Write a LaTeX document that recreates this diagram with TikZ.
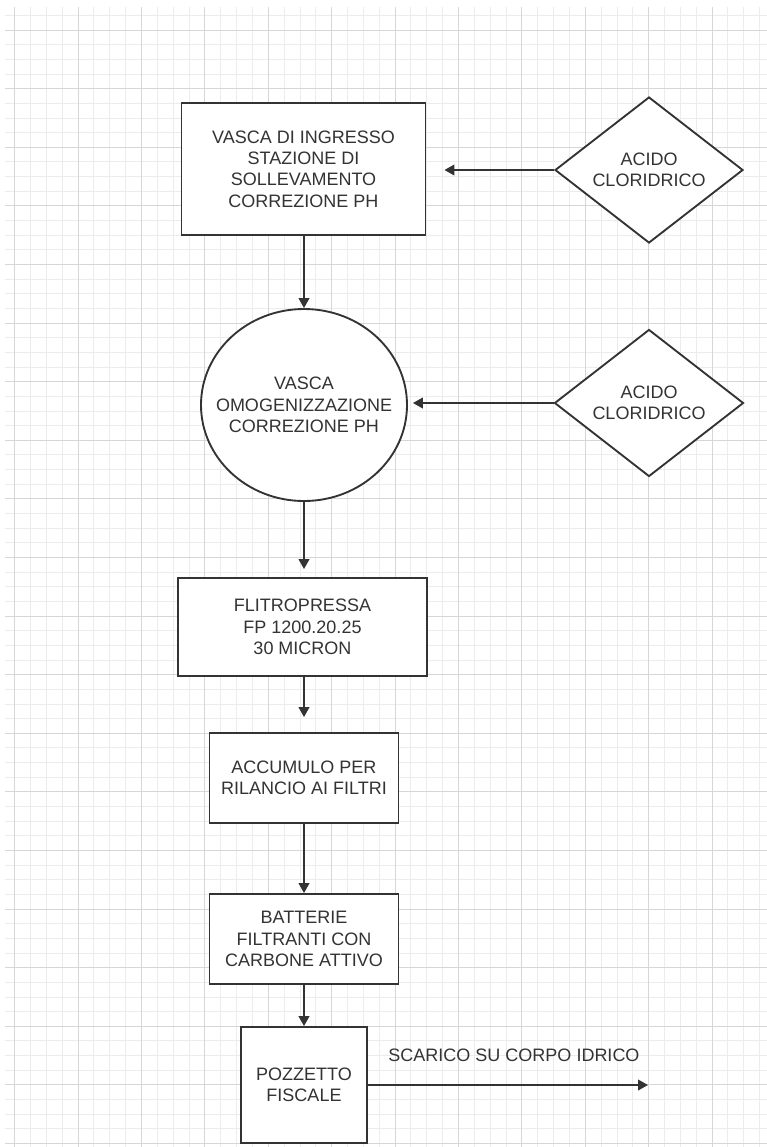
\documentclass[tikz,border=0pt]{standalone}
\usepackage{fontspec}
\setmainfont{Liberation Sans}
\usetikzlibrary{shapes.geometric,arrows.meta}

\tikzset{every picture/.style={line width=0.75pt}}
\tikzset{
	stage/.style={draw={rgb, 255:red, 51; green, 51; blue, 51 }, line width=1.4pt, fill=white, align=center, inner sep=0.75pt, text={rgb, 255:red, 51; green, 51; blue, 51 }, font=\fontsize{13.5}{16}\selectfont},
	tank/.style={stage, ellipse, inner xsep=-13pt},
	dosing/.style={stage, diamond, aspect=1.29},
	note/.style={inner sep=0.75pt, text={rgb, 255:red, 51; green, 51; blue, 51 }, font=\fontsize{13.5}{16}\selectfont},
	flow/.style={draw={rgb, 255:red, 51; green, 51; blue, 51 }, line width=1.4pt, -{Triangle[length=7.5pt,width=8pt]}},
	gridminor/.style={draw={rgb, 255:red, 236; green, 236; blue, 236 }, line width=0.6pt},
	gridmajor/.style={draw={rgb, 255:red, 214; green, 214; blue, 214 }, line width=0.75pt}
}

\begin{document}
\begin{tikzpicture}[x=0.75pt,y=0.75pt,yscale=-1,xscale=1]
	\useasboundingbox (0,0) rectangle (767,1147);
	\fill[white] (0,0) rectangle (767,1147);
	
	%Grid
	\begin{scope}
		\clip (5,7) rectangle (767,1147);
		\foreach \i in {0,...,47} \draw[gridminor] ({14.6+15.85*\i},7) -- ({14.6+15.85*\i},1147);
		\foreach \j in {0,...,78} \draw[gridminor] (5,{0.7+14.65*\j}) -- (767,{0.7+14.65*\j});
		\foreach \i in {0,...,11} \draw[gridmajor] ({14.6+63.4*\i},7) -- ({14.6+63.4*\i},1147);
		\foreach \j in {0,...,19} \draw[gridmajor] (5,{30+58.6*\j}) -- (767,{30+58.6*\j});
	\end{scope}
	
	%Shape: Rectangle
	\node[stage, minimum width=183pt, minimum height=99pt] (ingresso) at (303.5,169) {VASCA DI INGRESSO\\STAZIONE DI\\SOLLEVAMENTO\\CORREZIONE PH};
	%Shape: Diamond
	\node[dosing, minimum width=141pt, minimum height=109.5pt] (acido1) at (649,170) {ACIDO\\CLORIDRICO};
	%Shape: Ellipse
	\node[tank, minimum width=154.5pt, minimum height=144pt] (omog) at (304,405) {VASCA\\OMOGENIZZAZIONE\\CORREZIONE PH};
	%Shape: Diamond
	\node[dosing, minimum width=141.75pt, minimum height=110.25pt] (acido2) at (649,403) {ACIDO\\CLORIDRICO};
	%Shape: Rectangle
	\node[stage, minimum width=186.75pt, minimum height=73.5pt] (filtro) at (302.5,627) {FLITROPRESSA\\FP 1200.20.25\\30 MICRON};
	%Shape: Rectangle
	\node[stage, minimum width=141.75pt, minimum height=67.5pt] (accumulo) at (304,778) {ACCUMULO PER\\RILANCIO AI FILTRI};
	%Shape: Rectangle
	\node[stage, minimum width=141.75pt, minimum height=67.5pt] (batterie) at (304,939) {BATTERIE\\FILTRANTI CON\\CARBONE ATTIVO};
	%Shape: Rectangle
	\node[stage, minimum width=94.5pt, minimum height=87pt] (pozzetto) at (304,1085) {POZZETTO\\FISCALE};
	\coordinate (corpoidrico) at (648,1085);
	
	%Straight Lines
	\draw[flow, shorten >=13.5pt] (acido1.west) -- (acido1.west -| ingresso.east);
	\draw[flow, shorten >=3.75pt] (acido2.west) -- (acido2.west -| omog.east);
	\draw[flow] (ingresso.south -| omog.north) -- (omog.north);
	\draw[flow, shorten >=6pt] (omog.south) -- (omog.south |- filtro.north);
	\draw[flow, shorten >=11.25pt] (filtro.south -| accumulo.north) -- (accumulo.north);
	\draw[flow] (accumulo.south) -- (batterie.north);
	\draw[flow] (batterie.south) -- (pozzetto.north);
	\draw[flow] (pozzetto.east) -- (corpoidrico);
	
	% Text Node
	\node[note] (scarico) at (514,1055) {SCARICO SU CORPO IDRICO};
	
\end{tikzpicture}
\end{document}
